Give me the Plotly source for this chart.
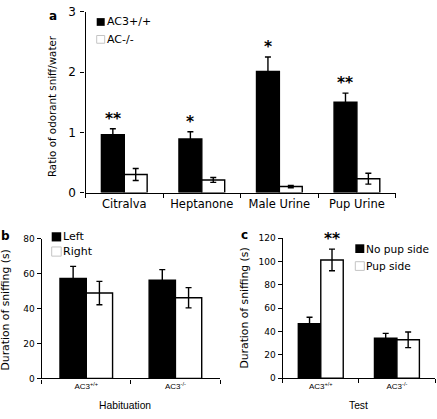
import plotly.graph_objects as go

W, H = 437, 419

# ---------------- data ----------------
odorants = ["Citralva", "Heptanone", "Male Urine", "Pup Urine"]
a_wt = [0.96, 0.89, 2.01, 1.50]
a_wt_err = [0.10, 0.12, 0.24, 0.15]
a_ko = [0.30, 0.21, 0.10, 0.23]
a_ko_err = [0.10, 0.04, 0.02, 0.09]
a_sig = ["**", "*", "*", "**"]

genotypes = ["AC3<sup>+/+</sup>", "AC3<sup>-/-</sup>"]
b_left = [57.4, 56.3]
b_left_err = [6.9, 6.1]
b_right = [49.0, 46.3]
b_right_err = [6.7, 5.8]

c_nopup = [46.7, 34.3]
c_nopup_err = [5.5, 4.1]
c_pup = [101.4, 32.9]
c_pup_err = [9.3, 6.7]
c_sig = ["**", ""]

BARGAP = 0.41
FONT = "DejaVu Sans"
ARIAL = "Liberation Sans"


def px(x):
    return x / W


def py(y):
    return 1 - y / H


def err(arr):
    return dict(type="data", array=arr, color="black", thickness=1.4, width=3)


def bar(x, y, e, fill, xa, ya, name):
    return go.Bar(x=x, y=y, error_y=err(e), name=name, showlegend=False,
                  marker=dict(color=fill, line=dict(color="black", width=1.4)),
                  xaxis=xa, yaxis=ya, hoverinfo="skip")


fig = go.Figure()
fig.add_trace(bar(odorants, a_wt, a_wt_err, "black", "x", "y", "AC3+/+"))
fig.add_trace(bar(odorants, a_ko, a_ko_err, "white", "x", "y", "AC-/-"))
fig.add_trace(bar(genotypes, b_left, b_left_err, "black", "x2", "y2", "Left"))
fig.add_trace(bar(genotypes, b_right, b_right_err, "white", "x2", "y2", "Right"))
fig.add_trace(bar(genotypes, c_nopup, c_nopup_err, "black", "x3", "y3", "No pup side"))
fig.add_trace(bar(genotypes, c_pup, c_pup_err, "white", "x3", "y3", "Pup side"))

axis_common = dict(showline=True, linecolor="black", linewidth=1.4, ticks="outside",
                   ticklen=4, tickwidth=1.4, tickcolor="black", showgrid=False,
                   zeroline=False, fixedrange=True)

fig.update_layout(
    width=W, height=H, margin=dict(l=0, r=0, t=0, b=0),
    paper_bgcolor="white", plot_bgcolor="white",
    barmode="group", bargap=BARGAP, bargroupgap=0,
    font=dict(family=FONT, color="black", size=11),
    showlegend=False,
    xaxis=dict(axis_common, domain=[px(85.5), px(395.7)], anchor="y", type="category",
               tickson="boundaries", range=[-0.5, 3.5],
               tickfont=dict(family=FONT, size=11.5)),
    yaxis=dict(axis_common, domain=[py(192), py(5)], anchor="x", range=[0, 3], dtick=1,
               ticklabelstandoff=2, tickfont=dict(family=FONT, size=12)),
    xaxis2=dict(axis_common, domain=[px(41.7), px(220)], anchor="y2", type="category",
                tickson="boundaries", range=[-0.5, 1.5],
                tickfont=dict(family=ARIAL, size=8)),
    yaxis2=dict(axis_common, domain=[py(384.3), py(240)], anchor="x2", range=[0, 80],
                dtick=20, tickfont=dict(family=FONT, size=9)),
    xaxis3=dict(axis_common, domain=[px(282.7), px(435)], anchor="y3", type="category",
                tickson="boundaries", range=[-0.5, 1.5],
                tickfont=dict(family=ARIAL, size=8)),
    yaxis3=dict(axis_common, domain=[py(384), py(239.3)], anchor="x3", range=[0, 120],
                dtick=20, tickfont=dict(family=FONT, size=9)),
)

ann = []
off = (1 - BARGAP) / 4
# significance stars
for i, s in enumerate(a_sig):
    if s:
        ann.append(dict(x=i - off, y=a_wt[i] + a_wt_err[i], xref="x", yref="y", text=s,
                        showarrow=False, yanchor="bottom", yshift=-1,
                        font=dict(family=FONT, size=15.5, weight="bold")))
for i, s in enumerate(c_sig):
    if s:
        ann.append(dict(x=i + off, y=c_pup[i] + c_pup_err[i], xref="x3", yref="y3", text=s,
                        showarrow=False, yanchor="bottom", yshift=-1,
                        font=dict(family=FONT, size=15.5, weight="bold")))


def txt(x, y, t, size, family=FONT, xanchor="center", angle=0, bold=False):
    ann.append(dict(x=px(x), y=py(y), xref="paper", yref="paper", text=t, showarrow=False,
                    xanchor=xanchor, yanchor="middle", textangle=angle, borderpad=0,
                    font=dict(family=family, size=size, color="black",
                              weight="bold" if bold else "normal")))


# panel letters
txt(53, 9, "a", 12, bold=True)
txt(5, 237, "b", 12, bold=True)
txt(244.5, 235.5, "c", 12, bold=True)
# axis titles
txt(52, 102.5, "Ratio of odorant sniff/water", 10.3, angle=-90)
txt(6, 314, "Duration of sniffing (s)", 10.8, angle=-90)
txt(245, 312, "Duration of sniffing (s)", 10.8, angle=-90)
txt(125, 412, "Habituation", 10.3, family=ARIAL)
txt(358.7, 412, "Test", 10.3, family=ARIAL)

# legends (keys + labels)
shapes = []


def key(x0, yc, size, fill, label, fsize):
    line = dict(width=0) if fill == "black" else dict(color="#c4c4c4", width=1)
    shapes.append(dict(type="rect", xref="paper", yref="paper",
                       x0=px(x0), x1=px(x0 + size), y0=py(yc + size / 2), y1=py(yc - size / 2),
                       fillcolor=fill, line=line))
    txt(x0 + size + 1, yc, label, fsize, xanchor="left")


key(96.7, 15.5, 8, "black", "AC3+/+", 11)
key(96.7, 33.5, 8, "white", "AC-/-", 11)
key(51.7, 237.8, 9.5, "black", "Left", 11)
key(51.7, 253, 9.5, "white", "Right", 11)
key(355.3, 250, 9, "black", "No pup side", 10.6)
key(355.3, 268, 9, "white", "Pup side", 10.6)

fig.update_layout(annotations=ann, shapes=shapes)
fig.write_html("out.html", config={"displayModeBar": False},
               post_script="document.body.style.margin='0';document.body.style.overflow='hidden';")
